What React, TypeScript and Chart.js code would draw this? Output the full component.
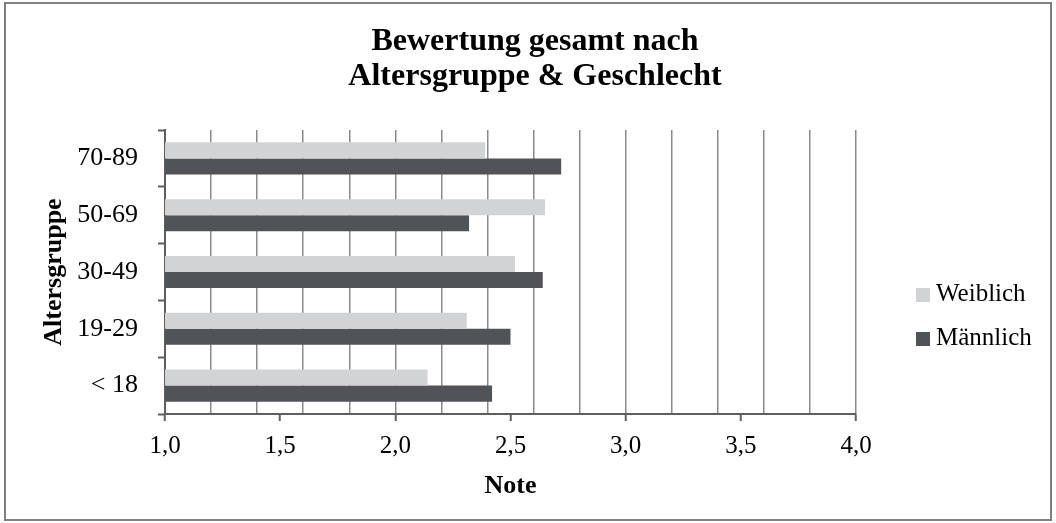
import React, { useEffect, useRef } from 'react';
import { Chart, registerables } from 'chart.js';

Chart.register(...registerables);

// ---- Data ----
const categories = ['70-89', '50-69', '30-49', '19-29', '< 18'];
const weiblich = [2.39, 2.65, 2.52, 2.31, 2.14];
const maennlich = [2.72, 2.32, 2.64, 2.5, 2.42];
const seriesLabels = ['Weiblich', 'Männlich'];
const seriesColors = ['#d1d3d4', '#505357'];
const titleLines = ['Bewertung gesamt nach', 'Altersgruppe & Geschlecht'];
const xTitle = 'Note';
const yTitle = 'Altersgruppe';
const xMin = 1;
const xMax = 4;

const FONT = "'Liberation Serif', 'Times New Roman', serif";
const AXIS = '#5e5e5e';
const GRID = '#8a8a8a';

const frameAndLegend = {
  id: 'frameAndLegend',
  beforeDraw(chart: any) {
    const { ctx, width, height } = chart;
    ctx.save();
    ctx.fillStyle = '#ffffff';
    ctx.fillRect(0, 0, width, height);
    ctx.strokeStyle = '#808080';
    ctx.lineWidth = 2;
    ctx.strokeRect(5, 3, width - 10, height - 6);
    ctx.restore();
  },
  afterDraw(chart: any) {
    const { ctx, chartArea } = chart;
    const x = chartArea.right + 60;
    let y = 288;
    ctx.save();
    ctx.font = `25px ${FONT}`;
    ctx.textBaseline = 'alphabetic';
    ctx.textAlign = 'left';
    chart.data.datasets.forEach((ds: any) => {
      ctx.fillStyle = ds.backgroundColor;
      ctx.fillRect(x, y, 14, 14);
      ctx.fillStyle = '#000000';
      ctx.fillText(ds.label, x + 20, y + 13);
      y += 44;
    });
    ctx.restore();
  },
};

export default function App() {
  const ref = useRef<HTMLCanvasElement>(null);

  useEffect(() => {
    if (!ref.current) return;
    const chart = new Chart(ref.current, {
      type: 'bar',
      data: {
        labels: categories,
        datasets: [
          { label: seriesLabels[0], data: weiblich, backgroundColor: seriesColors[0], categoryPercentage: 0.565, barPercentage: 1 },
          { label: seriesLabels[1], data: maennlich, backgroundColor: seriesColors[1], categoryPercentage: 0.565, barPercentage: 1 },
        ],
      },
      options: {
        indexAxis: 'y',
        responsive: false,
        animation: false,
        devicePixelRatio: 1,
        layout: { padding: { left: 16, right: 2, top: 0, bottom: 0 } },
        plugins: {
          legend: { display: false },
          tooltip: { enabled: false },
          title: {
            display: true,
            text: titleLines,
            color: '#000000',
            font: { family: FONT, size: 32, weight: 'bold', lineHeight: 35 / 32 },
            padding: { top: 24, bottom: 36 },
          },
        },
        scales: {
          x: {
            type: 'linear',
            position: 'bottom',
            min: xMin,
            max: xMax,
            afterFit: (s: any) => { s.height = 109; },
            ticks: {
              stepSize: 0.1,
              maxTicksLimit: 100,
              autoSkip: false,
              maxRotation: 0,
              minRotation: 0,
              padding: 10,
              color: '#000000',
              font: { family: FONT, size: 25 },
              callback: (v: any) => {
                const t = Math.round(Number(v) * 10);
                return t % 5 === 0 ? (t / 10).toFixed(1).replace('.', ',') : '';
              },
            },
            grid: {
              display: true,
              drawOnChartArea: true,
              drawTicks: true,
              tickLength: 7,
              lineWidth: 1.5,
              color: (c: any) => {
                const t = Math.round(c.tick.value * 10);
                return t % 2 === 0 && t !== 10 ? GRID : 'rgba(0,0,0,0)';
              },
              tickColor: (c: any) => {
                const t = Math.round(c.tick.value * 10);
                return t % 5 === 0 ? AXIS : 'rgba(0,0,0,0)';
              },
              tickWidth: 2,
            },
            border: { display: true, color: AXIS, width: 2 },
            title: {
              display: true,
              text: xTitle,
              color: '#000000',
              font: { family: FONT, size: 26, weight: 'bold', lineHeight: 1.2 },
              padding: { top: 0, bottom: 21 },
            },
          },
          y: {
            type: 'category',
            position: 'left',
            afterFit: (s: any) => { s.width = 149; },
            ticks: {
              padding: 20,
              color: '#000000',
              font: { family: FONT, size: 26 },
            },
            grid: {
              display: true,
              offset: true,
              drawOnChartArea: false,
              drawTicks: true,
              tickLength: 7,
              tickColor: AXIS,
              tickWidth: 2,
            },
            border: { display: true, color: AXIS, width: 2 },
            title: {
              display: true,
              text: yTitle,
              color: '#000000',
              font: { family: FONT, size: 26, weight: 'bold', lineHeight: 1.2 },
              padding: { top: 23, bottom: 0 },
            },
          },
          spacer: {
            type: 'linear',
            position: 'right',
            display: true,
            afterFit: (s: any) => { s.width = 198; },
            ticks: { display: false },
            grid: { display: false, drawTicks: false },
            border: { display: false },
          },
        },
      },
      plugins: [frameAndLegend],
    } as any);
    return () => chart.destroy();
  }, []);

  return (
    <div style={{ position: 'absolute', left: 0, top: 0, width: 1056, height: 523 }}>
      <canvas ref={ref} width={1056} height={523} style={{ width: 1056, height: 523, display: 'block' }} />
    </div>
  );
}
